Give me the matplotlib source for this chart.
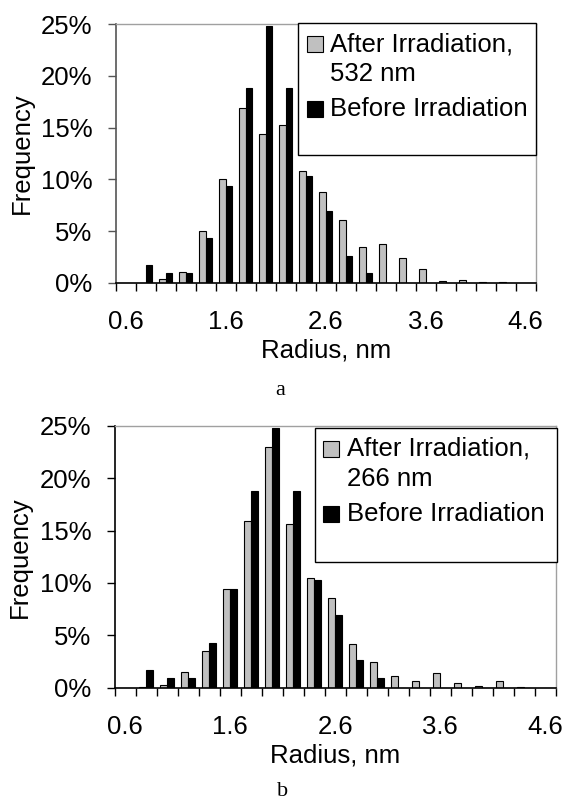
import matplotlib
matplotlib.use('Agg')
import matplotlib.pyplot as plt
from matplotlib.patches import Rectangle
import numpy as np

plt.rcParams['font.family'] = ['Liberation Sans', 'DejaVu Sans']

# radius categories, nm
radius = ['0.6', '0.8', '1.0', '1.2', '1.4', '1.6', '1.8', '2.0', '2.2', '2.4', '2.6',
          '2.8', '3.0', '3.2', '3.4', '3.6', '3.8', '4.0', '4.2', '4.4', '4.6']
# frequency, %
before = [0, 1.7, 0.9, 0.9, 4.3, 9.4, 18.8, 24.8, 18.8, 10.3, 6.9,
          2.6, 0.9, 0, 0, 0, 0, 0, 0, 0, 0]
after_532 = [0, 0, 0.4, 1.0, 5.0, 10.0, 16.9, 14.4, 15.3, 10.8, 8.8,
             6.1, 3.5, 3.7, 2.4, 1.3, 0.2, 0.3, 0.1, 0.1, 0]
after_266 = [0, 0.06, 0.3, 1.5, 3.5, 9.4, 15.9, 23.0, 15.6, 10.5, 8.6,
             4.2, 2.5, 1.1, 0.6, 1.4, 0.45, 0.15, 0.6, 0.1, 0]
yticks = [0, 5, 10, 15, 20, 25]
label_every = 5

W, H = 566, 805
FS = 18.5
fig = plt.figure(figsize=(W / 100, H / 100), dpi=100)


def px_box(left, top, right, bottom):
    return [left / W, 1 - bottom / H, (right - left) / W, (bottom - top) / H]


def panel(box, after, spine_col):
    ax = fig.add_axes(box)
    x = np.arange(len(radius))
    ax.bar(x - 1 / 6, after, width=1 / 3, color='#c0c0c0', edgecolor='black', linewidth=0.8)
    ax.bar(x + 1 / 6, before, width=1 / 3, color='black', edgecolor='black', linewidth=0.8)
    ax.set_xlim(-0.5, len(radius) - 0.5)
    ax.set_ylim(0, 25)
    ax.set_yticks(yticks, [f'{v}%' for v in yticks])
    ax.set_xticks(np.arange(len(radius) + 1) - 0.5, [])
    pos = x[::label_every]
    ax.set_xticks(pos, [radius[i] for i in pos], minor=True)
    ax.tick_params(axis='x', which='major', direction='out', length=5.8, width=1, color='black')
    ax.tick_params(axis='x', which='minor', length=0, pad=20, labelsize=FS)
    ax.tick_params(axis='y', direction='out', length=5.8, width=1, color=spine_col, pad=10.8, labelsize=FS)
    for s in ['left', 'bottom']:
        ax.spines[s].set_color(spine_col)
        ax.spines[s].set_linewidth(1.2)
    ax.spines['bottom'].set_color('black')
    for s in ['top', 'right']:
        ax.spines[s].set_color('#a0a0a0')
        ax.spines[s].set_linewidth(1)
    ax.set_xlabel('Radius, nm', fontsize=FS, labelpad=3)
    ax.set_ylabel('Frequency', fontsize=FS)
    return ax


def legend(left, top, right, bottom, name):
    fig.add_artist(Rectangle((left / W, 1 - bottom / H), (right - left) / W, (bottom - top) / H,
                             transform=fig.transFigure, facecolor='white', edgecolor='black', linewidth=1))
    hx = left + 8.4
    fig.add_artist(Rectangle((hx / W, 1 - (top + 29) / H), 16 / W, 16 / H, transform=fig.transFigure,
                             facecolor='#c0c0c0', edgecolor='black', linewidth=0.8))
    fig.add_artist(Rectangle((hx / W, 1 - (top + 94) / H), 16 / W, 16 / H, transform=fig.transFigure,
                             facecolor='black', edgecolor='black', linewidth=0.8))
    tx = (left + 32) / W
    fig.text(tx, 1 - (top + 28) / H, 'After Irradiation,', fontsize=FS, va='baseline')
    fig.text(tx, 1 - (top + 58) / H, name, fontsize=FS, va='baseline')
    fig.text(tx, 1 - (top + 93) / H, 'Before Irradiation', fontsize=FS, va='baseline')


ax_a = panel(px_box(115.7, 24.3, 535.7, 282.7), after_532, '#555555')
ax_a.yaxis.set_label_coords(-0.196, 0.5)
legend(298.3, 23.3, 536, 155, '532 nm')
fig.text(280 / W, 1 - 395 / H, 'a', family='Liberation Serif', fontsize=16, ha='center', va='baseline')

ax_b = panel(px_box(114.7, 425.7, 555.7, 687.7), after_266, 'black')
ax_b.yaxis.set_label_coords(-0.188, 0.5)
legend(315, 427.7, 556.7, 561.7, '266 nm')
fig.text(283 / W, 1 - 796 / H, 'b', family='Liberation Serif', fontsize=16, ha='center', va='baseline')

fig.savefig('out.png', dpi=100)
